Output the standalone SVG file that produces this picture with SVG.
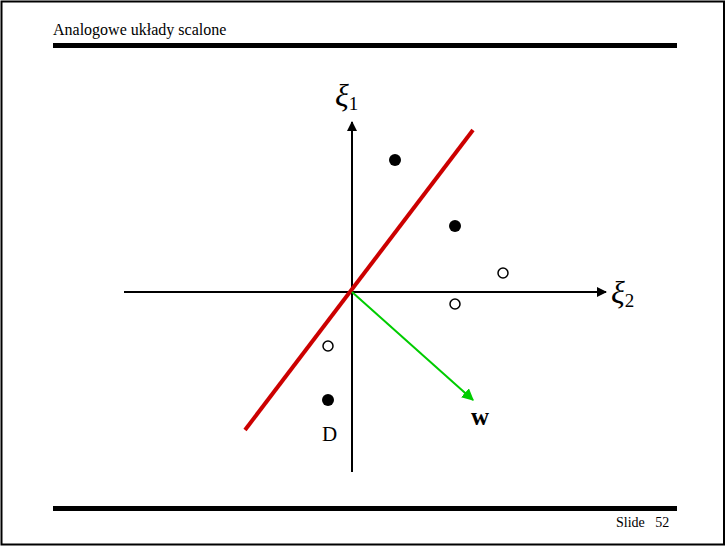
<svg xmlns="http://www.w3.org/2000/svg" width="726" height="547" viewBox="0 0 726 547">
<style>
.t{font-family:"Liberation Serif","Times New Roman",serif;fill:#000}
.ax{stroke:#000;stroke-width:2;fill:none}
.full{fill:#000}
.open{fill:#fff;stroke:#000;stroke-width:1.5}
</style>
<defs>
<marker id="ab" viewBox="0 0 10 10" refX="9" refY="5" markerWidth="5" markerHeight="5" orient="auto" markerUnits="strokeWidth">
<path d="M0,0 L10,5 L0,10 z" fill="#000"/>
</marker>
<marker id="ag" viewBox="0 0 10 10" refX="9" refY="5" markerWidth="6" markerHeight="6" orient="auto" markerUnits="strokeWidth">
<path d="M0,0 L10,5 L0,10 z" fill="#00cc00"/>
</marker>
</defs>
<rect x="0" y="0" width="726" height="547" fill="#fff"/>
<rect x="1.5" y="1.5" width="722.5" height="543" fill="none" stroke="#000" stroke-width="2"/>
<g id="header">
<text class="t" x="53" y="35" font-size="16">Analogowe układy scalone</text>
<rect x="53" y="43" width="624" height="5" fill="#000"/>
</g>
<g id="footer">
<rect x="53" y="506" width="624" height="5" fill="#000"/>
<text class="t" x="616" y="527" font-size="14" xml:space="preserve">Slide   52</text>
</g>
<g id="connectors">
<line class="ax" x1="352" y1="472" x2="352" y2="122" marker-end="url(#ab)"/>
<line class="ax" x1="124" y1="292" x2="606" y2="292" marker-end="url(#ab)"/>
<line x1="245" y1="430" x2="473" y2="130" stroke="#cc0000" stroke-width="4"/>
<line x1="352" y1="292" x2="473" y2="400" stroke="#00cc00" stroke-width="2" marker-end="url(#ag)"/>
</g>
<g id="labels">
<text class="t" x="335" y="106" font-size="32" font-style="italic">ξ<tspan font-size="19" font-style="normal" dy="4">1</tspan></text>
<text class="t" x="611" y="303" font-size="32" font-style="italic">ξ<tspan font-size="19" font-style="normal" dy="4">2</tspan></text>
<text class="t" x="322" y="441" font-size="21">D</text>
<text class="t" x="471" y="425" font-size="25" font-weight="bold">w</text>
</g>
<g id="points">
<circle class="full" cx="395" cy="160" r="6"/>
<circle class="full" cx="455" cy="226" r="6"/>
<circle class="full" cx="328" cy="400" r="6"/>
<circle class="open" cx="503" cy="273" r="5"/>
<circle class="open" cx="455" cy="304" r="5"/>
<circle class="open" cx="328" cy="346" r="5"/>
</g>
</svg>
